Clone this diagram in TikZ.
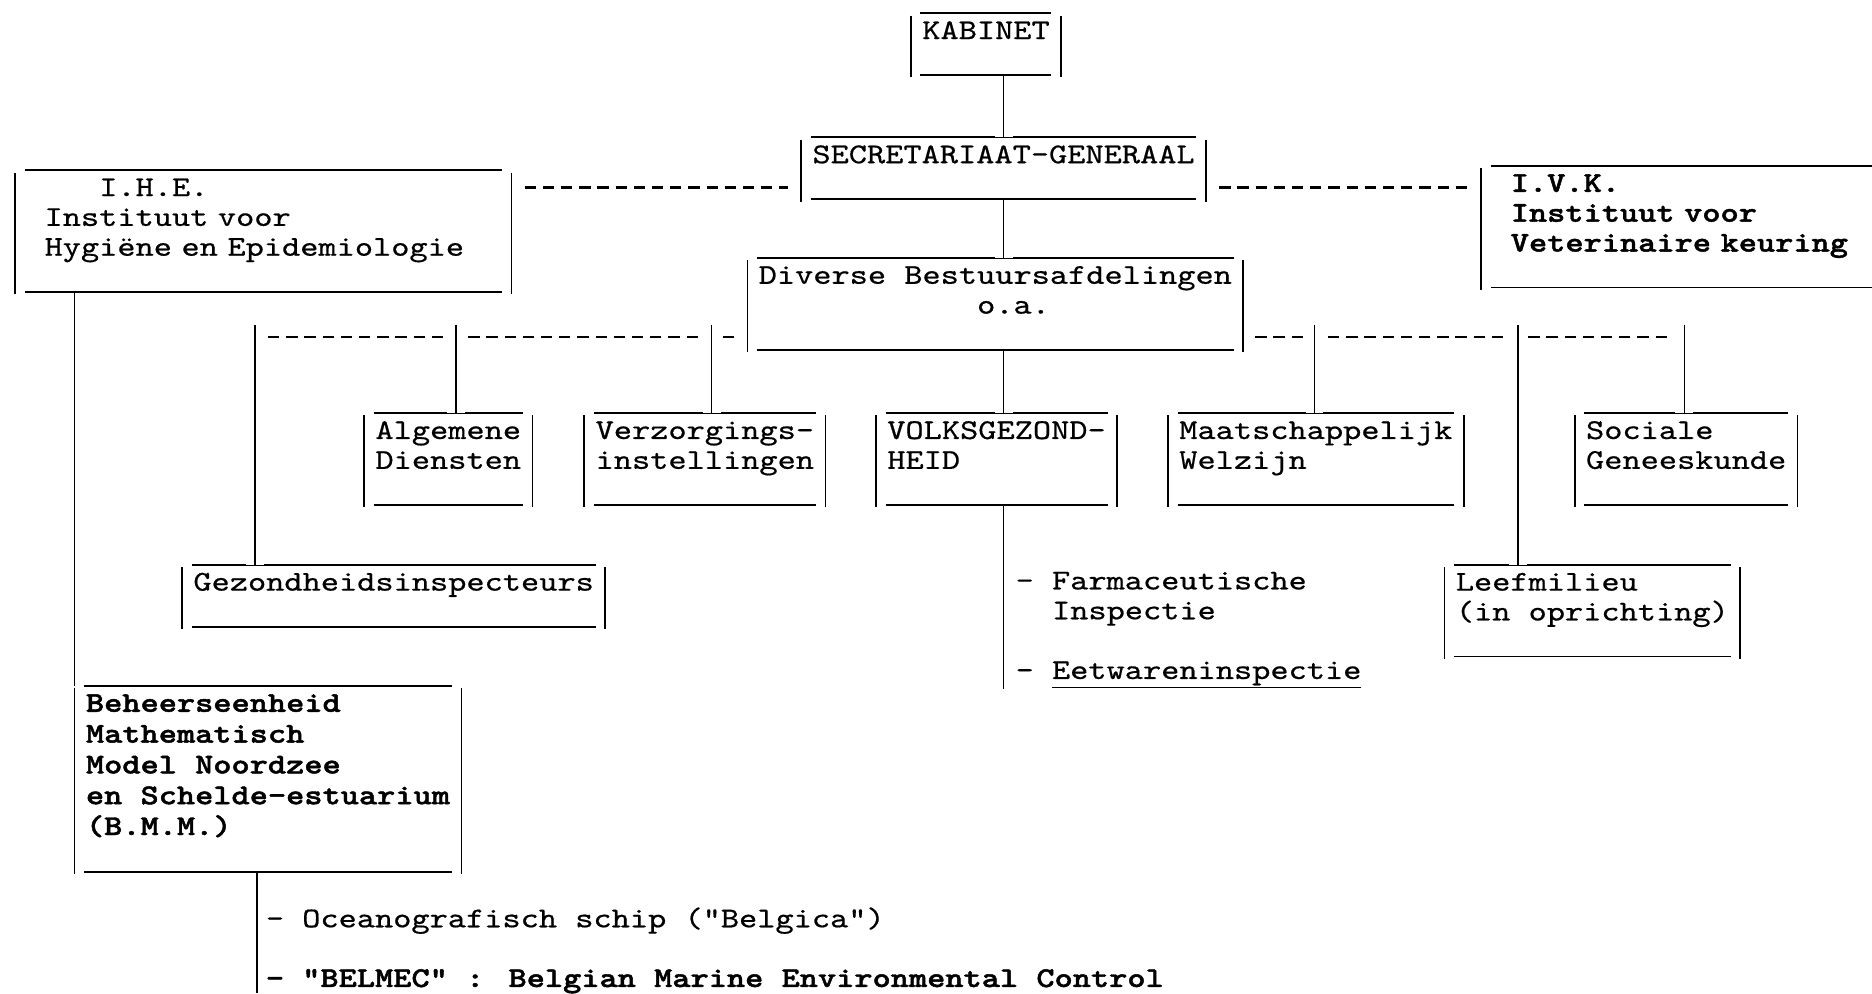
\documentclass[tikz,border=0pt]{standalone}
\usepackage{fontspec}
\usepackage{tikz}

\newfontfamily\tyff{lmmono10-regular.otf}[FakeStretch=1.21, UprightFeatures={FakeBold=0.6}, BoldFont=lmmonolt10-bold.otf, BoldFeatures={FakeBold=1.6}]
\newcommand{\tyfont}{\tyff\fontsize{24}{25}\selectfont}
\newcommand{\tytop}{\rule{0pt}{21pt}}
\newcommand{\tybot}{\rule[-4.5pt]{0pt}{4.5pt}}

\tikzset{
	tydash/.style={line width=1.8pt, dash pattern=on 9.5pt off 5.74pt},
	tyjoin/.style={preaction={draw=white, line width=15pt, shorten <=3pt}},
	tytext/.style={font=\tyfont, inner sep=0pt, anchor=north west, align=left},
	tybox/.style={tytext, inner xsep=8.8pt,
		append after command={
			([yshift=-2pt]\tikzlastnode.north west) edge ([yshift=-2pt]\tikzlastnode.south west)
			([yshift=-2pt]\tikzlastnode.north east) edge ([yshift=-2pt]\tikzlastnode.south east)
			([xshift=8pt]\tikzlastnode.north west) edge ([xshift=-8pt]\tikzlastnode.north east)
			([xshift=8pt]\tikzlastnode.south west) edge ([xshift=-8pt]\tikzlastnode.south east)}},
}

\begin{document}
\begin{tikzpicture}[x=1pt, y=-1pt, line width=1.4pt]
	\path[use as bounding box, clip] (0,0) rectangle (1568,832);

	\node[tybox] (kab) at (763, 11) {\tytop KABINET\\\tybot};
	\node[tybox] (sg) at (671, 115) {\tytop SECRETARIAAT-GENERAAL\\\tybot};
	\node[tybox] (div) at (626, 216) {\tytop Diverse Bestuursafdelingen\\\hphantom{xxxxxxxxxxxx}o.a.\\\tybot};
	\node[tybox, text width=396.8pt] (ihe) at (12.6, 142.5) {\tytop\hphantom{xxxx}I.H.E.\\\hphantom{x}Instituut voor\\\hphantom{x}Hygiëne en Epidemiologie\\\tybot};
	\node[tybox, text width=330pt, font=\tyfont\bfseries] (ivk) at (1240.7, 139) {\tytop\hphantom{x}I.V.K.\\\hphantom{x}Instituut voor\\\hphantom{x}Veterinaire keuring\\\tybot};

	\node[tybox] (alg) at (305, 346) {\tytop Algemene\\Diensten\\\tybot};
	\node[tybox] (verz) at (489.4, 346) {\tytop Verzorgings-\\instellingen\\\tybot};
	\node[tybox] (volks) at (733.7, 346) {\tytop VOLKSGEZOND-\\HEID\\\tybot};
	\node[tybox] (maat) at (978.3, 346) {\tytop Maatschappelijk\\Welzijn\\\tybot};
	\node[tybox] (soc) at (1319, 346) {\tytop Sociale\\Geneeskunde\\\tybot};
	\node[tybox] (gez) at (152.5, 473) {\tytop Gezondheidsinspecteurs\\\tybot};
	\node[tybox] (leef) at (1209.9, 473) {\tytop Leefmilieu\\(in oprichting)\\\tybot};
	\node[tybox, font=\tyff\bfseries\fontsize{24}{25.8}\selectfont] (bmm) at (62.5, 574.5) {\tytop Beheerseenheid\\Mathematisch\\Model Noordzee\\en Schelde-estuarium\\(B.M.M.)\\\tybot};

	\node[tytext] (farm) at (850, 472) {\tytop- Farmaceutische\\\hphantom{- }Inspectie};
	\node[tytext] (eet) at (850, 547) {\tytop- \underline{Eetwareninspectie}};
	\node[tytext] (ocean) at (222, 755) {\tytop- Oceanografisch schip ("Belgica")};
	\node[tytext, font=\tyfont\bfseries] (belmec) at (222, 805) {\tytop- "BELMEC" : Belgian Marine Environmental Control};

	\coordinate (lvl) at (0, 157);
	\coordinate (rail) at (0, 282);
	\coordinate (jgez) at (213.5, 272);
	\coordinate (jalg) at (381.7, 272);
	\coordinate (jverz) at (596, 272);
	\coordinate (jmaat) at (1101, 272);
	\coordinate (jleef) at (1271.5, 272);
	\coordinate (jsoc) at (1410.8, 272);
	\coordinate (bmmend) at (215, 832);

	\path ([xshift=11pt]ihe.east |- lvl) edge[tydash] ([xshift=-11pt]sg.west |- lvl);
	\path ([xshift=11pt]sg.east |- lvl) edge[tydash] ([xshift=-12pt]ivk.west |- lvl);
	\path ([xshift=11pt]jgez |- rail) edge[tydash] ([xshift=-9pt]div.west |- rail);
	\path ([xshift=10pt]div.east |- rail) edge[tydash] ([xshift=-10pt]jsoc |- rail);

	\path (sg.north |- kab.south) edge[tyjoin] (sg.north);
	\path (sg.south) edge[tyjoin] (sg.south |- div.north);
	\path (sg.south |- div.south) edge[tyjoin] (sg.south |- volks.north);
	\path (sg.south |- volks.south) edge (sg.south |- eet.south);
	\path (ihe.south -| bmm.west) edge (bmm.north west);
	\path (bmm.south -| bmmend) edge (bmmend);
	\path (jgez) edge[tyjoin] (jgez |- gez.north);
	\path (jalg) edge[tyjoin] (jalg |- alg.north);
	\path (jverz) edge[tyjoin] (jverz |- verz.north);
	\path (jmaat) edge[tyjoin] (jmaat |- maat.north);
	\path (jleef) edge[tyjoin] (jleef |- leef.north);
	\path (jsoc) edge[tyjoin] (jsoc |- soc.north);
\end{tikzpicture}
\end{document}
